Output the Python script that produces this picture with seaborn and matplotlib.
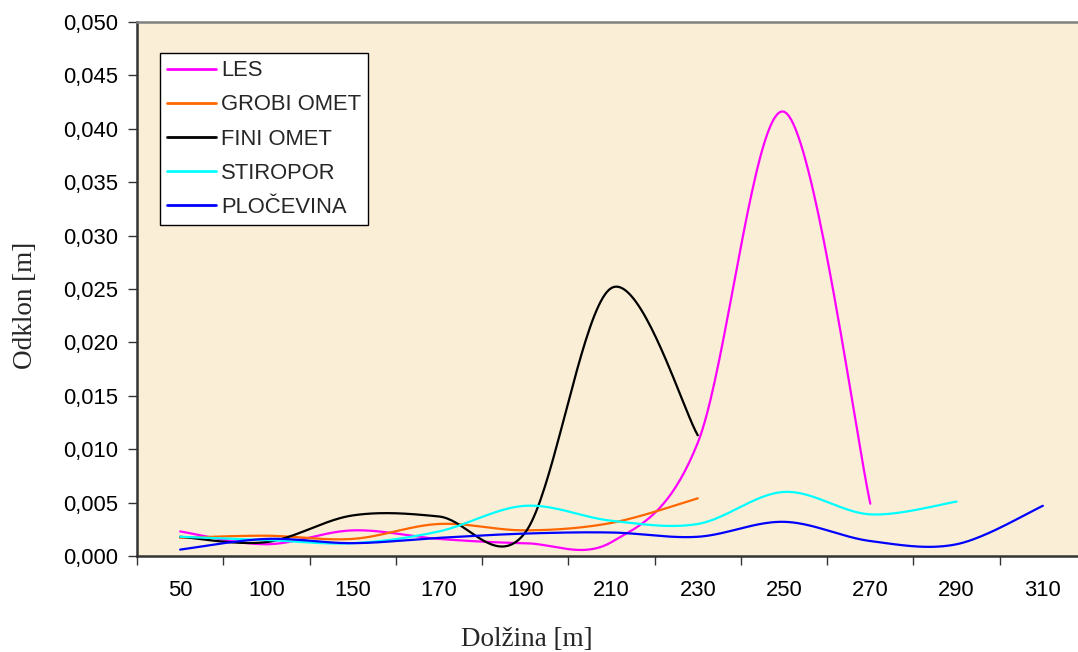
import numpy as np
import pandas as pd
import matplotlib
matplotlib.use("Agg")
import matplotlib.pyplot as plt
import seaborn as sns
from matplotlib.ticker import FuncFormatter, MultipleLocator

# Measurement positions along the beam (categorical axis)
lengths = ["50", "100", "150", "170", "190", "210", "230", "250", "270", "290", "310"]

# Deflection readings [m] per material
les = [0.0023, 0.0011, 0.0024, 0.0016, 0.0012, 0.0013, 0.0106, 0.0416, 0.0049]
grobi_omet = [0.0017, 0.0019, 0.0016, 0.0030, 0.0024, 0.0031, 0.0054]
fini_omet = [0.0018, 0.0013, 0.0038, 0.0037, 0.0022, 0.0251, 0.0113]
stiropor = [0.0018, 0.0015, 0.0012, 0.0023, 0.0047, 0.0033, 0.0030, 0.0060, 0.0039, 0.0051]
plocevina = [0.0006, 0.0016, 0.0012, 0.0017, 0.0021, 0.0022, 0.0018, 0.0032, 0.0014, 0.0011, 0.0047]

series_names = ["LES", "GROBI OMET", "FINI OMET", "STIROPOR", "PLOČEVINA"]
series_values = [les, grobi_omet, fini_omet, stiropor, plocevina]
series_colors = ["#FF00FF", "#FF6600", "#000000", "#00FFFF", "#0000FF"]


def smooth_curve(values, steps=40):
    """Cubic Bezier smoothing through every point (Catmull-Rom style tangents)."""
    pts = np.column_stack([np.arange(len(values), dtype=float), np.asarray(values, float)])
    n = len(pts)
    out = []
    for i in range(n - 1):
        p0 = pts[max(i - 1, 0)]
        p1 = pts[i]
        p2 = pts[i + 1]
        p3 = pts[min(i + 2, n - 1)]
        c1 = p1 + (p2 - p0) / 6.0
        c2 = p2 - (p3 - p1) / 6.0
        t = np.linspace(0, 1, steps, endpoint=(i == n - 2))[:, None]
        seg = ((1 - t) ** 3) * p1 + 3 * ((1 - t) ** 2) * t * c1 + 3 * (1 - t) * t ** 2 * c2 + t ** 3 * p2
        out.append(seg)
    return np.vstack(out)


sns.set_theme(style="white")
plt.rcParams["font.family"] = ["Liberation Sans", "DejaVu Sans"]

fig = plt.figure(figsize=(10.78, 6.52), dpi=100)
ax = fig.add_axes([137 / 1078, 96 / 652, 949 / 1078, 534 / 652])
ax.set_facecolor("#FAEED6")

for name, vals, col in zip(series_names, series_values, series_colors):
    curve = smooth_curve(vals)
    df = pd.DataFrame({"pos": curve[:, 0], "val": curve[:, 1]})
    sns.lineplot(data=df, x="pos", y="val", color=col, linewidth=1.6,
                 sort=False, estimator=None, label=name, ax=ax)

ax.set_xlim(-0.5, len(lengths) - 0.5)
ax.set_ylim(0, 0.05)

# Category labels at the centres, tick marks on the boundaries
ax.set_xticks(np.arange(len(lengths)))
ax.set_xticklabels(lengths)
ax.set_xticks(np.arange(-0.5, len(lengths), 1.0), minor=True)
ax.tick_params(axis="x", which="major", length=0, pad=17, labelsize=15.8, colors="black")
ax.tick_params(axis="x", which="minor", length=6.5, width=1.0, color="#333333", bottom=True)

ax.yaxis.set_major_locator(MultipleLocator(0.005))
ax.yaxis.set_major_formatter(FuncFormatter(lambda v, _: f"{v:.3f}".replace(".", ",")))
ax.tick_params(axis="y", which="major", length=6.5, width=1.0, pad=7, labelsize=15.8,
               color="#333333", left=True, labelcolor="black")

for side in ["left", "bottom"]:
    ax.spines[side].set_color("#333333")
    ax.spines[side].set_linewidth(1.8)
ax.spines["top"].set_color("#808080")
ax.spines["top"].set_linewidth(1.8)
ax.spines["right"].set_visible(False)

xl = ax.set_xlabel("Dolžina [m]", fontfamily="Liberation Serif", fontsize=19.5)
yl = ax.set_ylabel("Odklon [m]", fontfamily="Liberation Serif", fontsize=19.5)
xl.set_verticalalignment("center")
yl.set_verticalalignment("center")
ax.xaxis.set_label_coords((527 - 137) / 949, (556 - 639) / 534)
ax.yaxis.set_label_coords((25 - 137) / 949, (556 - 305) / 534)

leg = ax.legend(loc="upper left", bbox_to_anchor=(23 / 949, (556 - 53) / 534),
                borderaxespad=0, frameon=True, fancybox=False, fontsize=15.8,
                handlelength=2.2, handletextpad=0.25, labelspacing=0.6,
                borderpad=0.33)
leg.get_frame().set_edgecolor("black")
leg.get_frame().set_linewidth(1.0)
leg.get_frame().set_facecolor("white")
leg.get_frame().set_alpha(1.0)
for line in leg.get_lines():
    line.set_linewidth(2.0)

fig.savefig("out.png", dpi=100, facecolor="white")
